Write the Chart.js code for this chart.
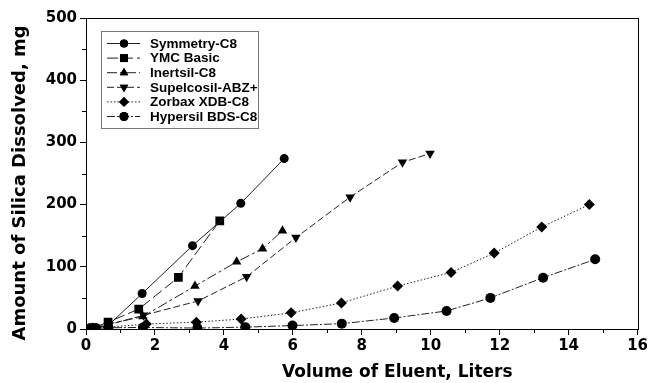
<!DOCTYPE html>
<html>
<head>
<meta charset="utf-8">
<script src="https://cdn.jsdelivr.net/npm/chart.js@4.4.1/dist/chart.umd.min.js"></script>
<style>
  html, body { margin: 0; padding: 0; background: #fff; }
  #wrap { width: 650px; height: 383px; }
</style>
</head>
<body>
<div id="wrap"><canvas id="myChart" width="650" height="383"></canvas></div>
<script>
let names = ['Symmetry-C8', 'YMC Basic', 'Inertsil-C8', 'Supelcosil-ABZ+', 'Zorbax XDB-C8', 'Hypersil BDS-C8'];

let symX = [0, 0.1, 0.2, 0.3, 0.65, 1.63, 3.09, 4.49, 5.75];
let symY = [0, 1, 1.5, 2, 6, 57, 134, 202, 274];
let ymcX = [0, 0.1, 0.2, 0.64, 1.53, 2.68, 3.88];
let ymcY = [0, 1, 2, 11, 32, 83, 174];
let inertX = [0, 0.1, 0.2, 0.65, 1.65, 3.16, 4.37, 5.12, 5.7];
let inertY = [0, 1, 2, 8, 20, 69, 108, 129, 158];
let supX = [0, 0.1, 0.2, 0.65, 1.67, 3.25, 4.66, 6.09, 7.66, 9.18, 9.98];
let supY = [0, 1, 2, 7, 22, 45, 84, 147, 212, 268, 282];
let zorX = [0, 0.1, 0.2, 0.65, 1.75, 3.2, 4.5, 5.95, 7.41, 9.04, 10.59, 11.84, 13.22, 14.6];
let zorY = [0, 0.5, 1, 3, 8, 11, 16, 26, 42, 69, 91, 122, 164, 200];
let hypX = [0, 0.1, 0.2, 0.65, 1.65, 3.23, 4.62, 5.99, 7.42, 8.94, 10.46, 11.73, 13.26, 14.77];
let hypY = [0, 0.5, 1, 2, 2.5, 1.5, 3, 5.5, 8.6, 17.7, 29, 50, 82.5, 112];

let xTicks = [0, 2, 4, 6, 8, 10, 12, 14, 16];
let yTicks = [0, 100, 200, 300, 400, 500];

let styles = [
  { pointStyle: 'circle', radius: 4.5, rotation: 0, dash: [] },
  { pointStyle: 'rect', radius: 6.2, rotation: 0, dash: [11, 4] },
  { pointStyle: 'triangle', radius: 5.5, rotation: 0, dash: [10, 3, 3, 3] },
  { pointStyle: 'triangle', radius: 5.5, rotation: 180, dash: [7, 3] },
  { pointStyle: 'rectRot', radius: 5.5, rotation: 0, dash: [1.5, 2] },
  { pointStyle: 'circle', radius: 5, rotation: 0, dash: [8, 2, 2, 2] }
];

function pairs(xs, ys) {
  return xs.map((x, i) => ({ x: x, y: ys[i] }));
}

let seriesData = [pairs(symX, symY), pairs(ymcX, ymcY), pairs(inertX, inertY),
                  pairs(supX, supY), pairs(zorX, zorY), pairs(hypX, hypY)];

let datasets = names.map((n, i) => ({
  label: n,
  data: seriesData[i],
  borderColor: '#222',
  backgroundColor: '#000',
  borderWidth: 1,
  borderDash: styles[i].dash,
  pointStyle: styles[i].pointStyle,
  pointRadius: styles[i].radius,
  pointRotation: styles[i].rotation,
  pointBorderWidth: 0,
  pointBackgroundColor: '#000',
  tension: 0
}));

let tickFont = { family: '"DejaVu Sans", sans-serif', size: 15, weight: 'bold' };

// box round the plot, minor ticks and the boxed legend
let extras = {
  id: 'extras',
  afterDraw(chart) {
    let ctx = chart.ctx;
    let a = chart.chartArea;
    let xs = chart.scales.x, ys = chart.scales.y;
    ctx.save();
    ctx.strokeStyle = '#000';
    ctx.lineWidth = 1;
    ctx.setLineDash([]);
    ctx.strokeRect(Math.round(a.left) + 0.5, Math.round(a.top) + 0.5,
                   Math.round(a.right - a.left), Math.round(a.bottom - a.top));
    ctx.beginPath();
    for (let v = 1; v < 16; v += 2) {
      let px = Math.round(xs.getPixelForValue(v)) + 0.5;
      ctx.moveTo(px, a.bottom);
      ctx.lineTo(px, a.bottom + 4);
    }
    for (let v = 50; v < 500; v += 100) {
      let py = Math.round(ys.getPixelForValue(v)) + 0.5;
      ctx.moveTo(a.left, py);
      ctx.lineTo(a.left - 4, py);
    }
    ctx.stroke();

    // legend
    let lx = a.left + 15, ly = a.top + 13, lw = 157, lh = 97;
    ctx.strokeStyle = '#777';
    ctx.strokeRect(lx + 0.5, ly + 0.5, lw, lh);
    ctx.font = 'bold 13.5px "Liberation Sans", Arial, sans-serif';
    ctx.textBaseline = 'middle';
    ctx.fillStyle = '#000';
    chart.data.datasets.forEach((ds, i) => {
      let y = ly + 12.5 + i * 14.6;
      ctx.strokeStyle = '#222';
      ctx.setLineDash(ds.borderDash);
      ctx.beginPath();
      ctx.moveTo(lx + 6, y);
      ctx.lineTo(lx + 39, y);
      ctx.stroke();
      ctx.setLineDash([]);
      Chart.helpers.drawPoint(ctx, {
        pointStyle: ds.pointStyle,
        radius: ds.pointRadius * 0.9,
        rotation: ds.pointRotation,
        borderWidth: 0
      }, lx + 23, y);
      ctx.fill();
      ctx.fillText(ds.label, lx + 49, y + 0.5);
    });
    ctx.restore();
  }
};

let myChart = document.getElementById('myChart').getContext('2d');

let chart = new Chart(myChart, {
  type: 'line',
  data: { datasets: datasets },
  plugins: [extras],
  options: {
    responsive: false,
    animation: false,
    layout: { padding: { top: 18, right: 8, left: 0, bottom: 0 } },
    plugins: {
      legend: { display: false },
      tooltip: { enabled: false }
    },
    scales: {
      x: {
        type: 'linear',
        min: 0,
        max: 16,
        afterFit(s) { s.height = 54; },
        afterBuildTicks(s) { s.ticks = xTicks.map(v => ({ value: v })); },
        grid: { drawOnChartArea: false, tickLength: 6, color: '#000', tickColor: '#000' },
        border: { color: '#000', width: 1 },
        ticks: { color: '#000', padding: 2, maxRotation: 0, font: tickFont },
        title: {
          display: true,
          text: '            Volume of Eluent, Liters',
          color: '#000',
          padding: { top: 0, bottom: 0 },
          font: { family: '"DejaVu Sans", sans-serif', size: 17, weight: 'bold' }
        }
      },
      y: {
        type: 'linear',
        min: 0,
        max: 500,
        afterFit(s) { s.width = 86; },
        afterBuildTicks(s) { s.ticks = yTicks.map(v => ({ value: v })); },
        grid: { drawOnChartArea: false, tickLength: 6, color: '#000', tickColor: '#000' },
        border: { color: '#000', width: 1 },
        ticks: { color: '#000', padding: 3, font: tickFont },
        title: {
          display: true,
          text: 'Amount of Silica Dissolved, mg   ',
          color: '#000',
          padding: { top: 10, bottom: 0 },
          font: { family: '"DejaVu Sans", sans-serif', size: 18, weight: 'bold' }
        }
      }
    }
  }
});
</script>
</body>
</html>
